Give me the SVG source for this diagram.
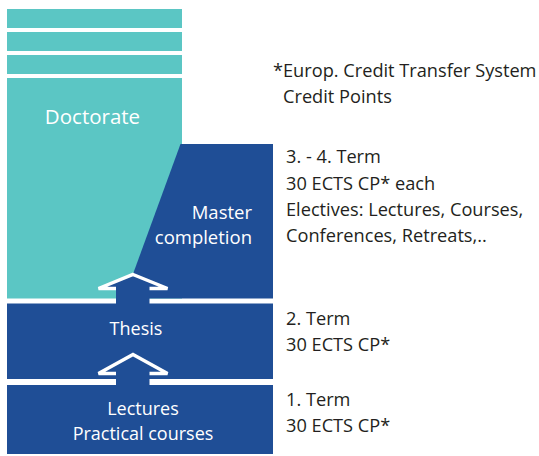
<svg xmlns="http://www.w3.org/2000/svg" width="539" height="456" viewBox="0 0 539 456">
<style>
.teal{fill:#5bc6c4}
.blue{fill:#1f4e96}
.wt{fill:#ffffff;font-family:"Open Sans","Liberation Sans",sans-serif}
.dt{fill:#231f20;font-family:"Open Sans","Liberation Sans",sans-serif;font-size:18.2px}
.head{fill:#1f4e96;stroke:#ffffff;stroke-width:3.5;stroke-linejoin:miter}
</style>
<rect width="539" height="456" fill="#ffffff"/>
<g id="doctorate">
<rect class="teal" x="7" y="9" width="175" height="19"/>
<rect class="teal" x="7" y="32" width="175" height="19"/>
<rect class="teal" x="7" y="55" width="175" height="19"/>
<rect class="teal" x="7" y="78" width="175" height="220.5"/>
<text class="wt" x="92.5" y="124" font-size="20.5" text-anchor="middle">Doctorate</text>
</g>
<g id="master">
<polygon class="blue" points="180.5,144 273,144 273,298.5 133,298.5 133,274"/>
<text class="wt" x="252" y="219" font-size="18.5" text-anchor="end">Master</text>
<text class="wt" x="252" y="243.5" font-size="18.5" text-anchor="end">completion</text>
</g>
<g id="thesis">
<rect class="blue" x="7" y="303.5" width="266" height="75.5"/>
<text class="wt" x="136" y="335" font-size="18" text-anchor="middle">Thesis</text>
</g>
<g id="lectures">
<rect class="blue" x="7" y="385" width="266" height="69"/>
<text class="wt" x="143" y="414.5" font-size="18" text-anchor="middle">Lectures</text>
<text class="wt" x="143" y="440" font-size="18" text-anchor="middle">Practical courses</text>
</g>
<g id="connectors">
<polygon class="head" points="133,274.5 167.5,288.5 98.5,288.5"/>
<rect class="blue" x="116" y="286" width="33.5" height="19"/>
<polygon class="head" points="133,354.5 167.5,373.5 98.5,373.5"/>
<rect class="blue" x="116" y="371" width="33.5" height="16"/>
</g>
<g id="notes">
<text class="dt" x="273" y="76.5">*Europ. Credit Transfer System</text>
<text class="dt" x="283" y="103">Credit Points</text>
<text class="dt" x="286" y="163">3. - 4. Term</text>
<text class="dt" x="286" y="189.5">30 ECTS CP* each</text>
<text class="dt" x="286" y="216">Electives: Lectures, Courses,</text>
<text class="dt" x="286" y="242">Conferences, Retreats,..</text>
<text class="dt" x="286" y="325">2. Term</text>
<text class="dt" x="286" y="351">30 ECTS CP*</text>
<text class="dt" x="286" y="406">1. Term</text>
<text class="dt" x="286" y="432">30 ECTS CP*</text>
</g>
</svg>
